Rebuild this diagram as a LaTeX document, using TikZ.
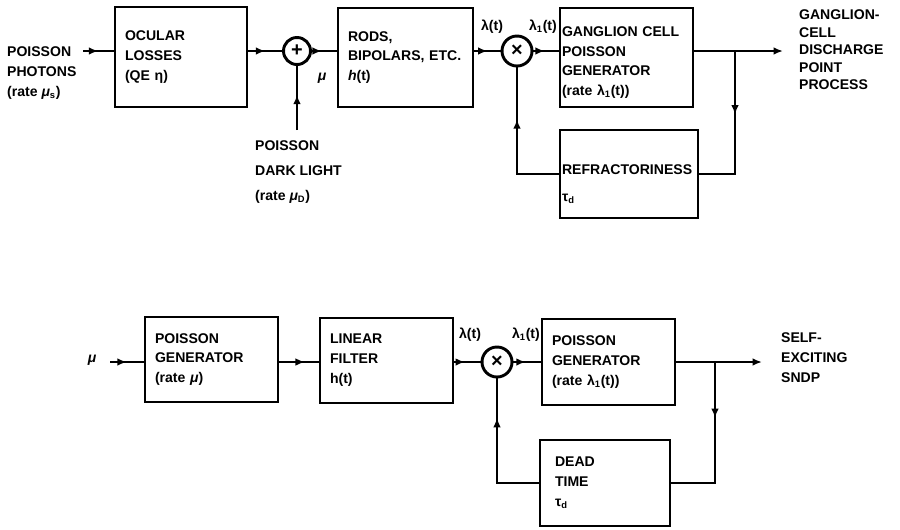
\documentclass[tikz,border=0pt]{standalone}
\usepackage{amsmath}
\usepackage{fontspec}
\setmainfont{Liberation Sans}
\usetikzlibrary{arrows.meta, decorations.markings, calc}

\begin{document}
\begin{tikzpicture}[
        x=0.3mm,
        y=-0.3mm,
        font=\fontsize{12}{17}\selectfont\bfseries,
        blockbox/.style={
            draw=black,
            line width=2.5pt,
            rectangle,
            align=left,
            inner xsep=3mm,
            inner ysep=0pt
        },
        junction/.style={
            draw=black,
            line width=2.5pt,
            circle,
            inner sep=0pt,
            font=\fontsize{17}{17}\selectfont\bfseries
        },
        signal/.style={
            draw=black,
            line width=2.5pt
        },
        midarrow/.style={
            postaction={decorate},
            decoration={
                markings,
                mark=at position #1 with {\arrow{Latex[length=8pt,width=6.5pt]}}
            }
        },
        midarrow/.default=0.5,
        sidelabel/.style={
            anchor=west,
            align=left
        }
    ]

        \useasboundingbox (0,0) rectangle (900,529);

        % Oben: Netzhautmodell
        \node[blockbox, text width=33.6mm, minimum height=30mm]
            (ocular) at (181,57)
            {OCULAR\\LOSSES\\(QE η)};

        \node[junction, minimum size=8.1mm]
            (sumjn) at (297,51)
            {+};

        \node[blockbox, text width=34.5mm, minimum height=29.7mm]
            (rods) at (405.5,57.5)
            {RODS,\\BIPOLARS, ETC.\\\textit{h}(t)};

        \node[junction, minimum size=9mm]
            (multjn) at (517,51)
            {×};

        \node[blockbox, inner xsep=0.6mm, text width=38.7mm, minimum height=29.7mm]
            (ganglion) at (626.5,57.5)
            {\rule{0pt}{17pt}GANGLION CELL\\POISSON\\GENERATOR\\(rate λ\textsubscript{1}(t))};

        \node[blockbox, inner xsep=0.6mm, text width=40.2mm, minimum height=26.4mm]
            (refract) at (629,174)
            {\rule{0pt}{26pt}REFRACTORINESS\\[6pt]τ\textsubscript{d}};

        % Oben: Verbindungen
        \coordinate (photonin) at (83,51);
        \coordinate (darkin) at (297,130);
        \coordinate (topout) at (783,51);
        \coordinate (topbranch) at (735,51);

        \draw[signal, midarrow] (photonin) -- (photonin -| ocular.west);
        \draw[signal, midarrow] (sumjn.west -| ocular.east) -- (sumjn.west);
        \draw[signal, midarrow=0.55] (darkin) -- (sumjn.south);
        \draw[signal, midarrow=0.4] (sumjn.east) -- (sumjn.east -| rods.west);
        \draw[signal, midarrow] (multjn.west -| rods.east) -- (multjn.west);
        \draw[signal, midarrow=0.45] (multjn.east) -- (multjn.east -| ganglion.west);
        \draw[signal, -{Latex[length=8pt,width=6.5pt]}] (topout -| ganglion.east) -- (topout);
        \draw[signal, midarrow=0.4] (topbranch) |- (refract.east);
        \draw[signal, midarrow=0.65] (refract.west) -| (multjn.south);

        % Oben: Beschriftungen
        \node[sidelabel] (photonlbl) at (3,73)
            {POISSON\\PHOTONS\\(rate \textit{μ}\textsubscript{s})};
        \node[sidelabel] (darklbl) at (251,172)
            {POISSON\\[4pt]DARK LIGHT\\[4pt](rate \textit{μ}\textsubscript{D})};
        \node (mulbl) at (322,78) {\textit{μ}};
        \node (lamlbl) at (492,27) {λ(t)};
        \node (lamonelbl) at (543,27) {λ\textsubscript{1}(t)};
        \node[sidelabel, font=\fontsize{12}{15}\selectfont\bfseries] (gclbl) at (795,50)
            {GANGLION-\\CELL\\DISCHARGE\\POINT\\PROCESS};

        % Unten: selbsterregender Prozess
        \node[blockbox, text width=33.9mm, minimum height=25.5mm]
            (pgen) at (211.5,359.5)
            {POISSON\\GENERATOR\\(rate \textit{μ})};

        \node[blockbox, text width=33.9mm, minimum height=25.5mm]
            (filter) at (386.5,360.5)
            {LINEAR\\FILTER\\h(t)};

        \node[junction, minimum size=9mm]
            (multlow) at (497,362)
            {×};

        \node[blockbox, text width=33.9mm, minimum height=25.8mm]
            (pgenlow) at (608.5,362)
            {POISSON\\GENERATOR\\(rate λ\textsubscript{1}(t))};

        \node[blockbox, inner xsep=4.5mm, text width=30mm, minimum height=25.8mm]
            (dead) at (605,483)
            {DEAD\\TIME\\τ\textsubscript{d}};

        % Unten: Verbindungen
        \coordinate (genin) at (110,362);
        \coordinate (lowout) at (762,362);
        \coordinate (lowbranch) at (715,362);

        \draw[signal, midarrow] (genin) -- (genin -| pgen.west);
        \draw[signal, midarrow=0.65] (genin -| pgen.east) -- (genin -| filter.west);
        \draw[signal, midarrow=0.4] (multlow.west -| filter.east) -- (multlow.west);
        \draw[signal, midarrow=0.45] (multlow.east) -- (multlow.east -| pgenlow.west);
        \draw[signal, -{Latex[length=8pt,width=6.5pt]}] (lowout -| pgenlow.east) -- (lowout);
        \draw[signal, midarrow=0.34] (lowbranch) |- (dead.east);
        \draw[signal, midarrow=0.73] (dead.west) -| (multlow.south);

        % Unten: Beschriftungen
        \node (muin) at (92,360) {\textit{μ}};
        \node (lamlowlbl) at (470,335) {λ(t)};
        \node (lamonelowlbl) at (526,335) {λ\textsubscript{1}(t)};
        \node[sidelabel] (sndplbl) at (777,358)
            {SELF-\\EXCITING\\SNDP};

    \end{tikzpicture}
\end{document}
